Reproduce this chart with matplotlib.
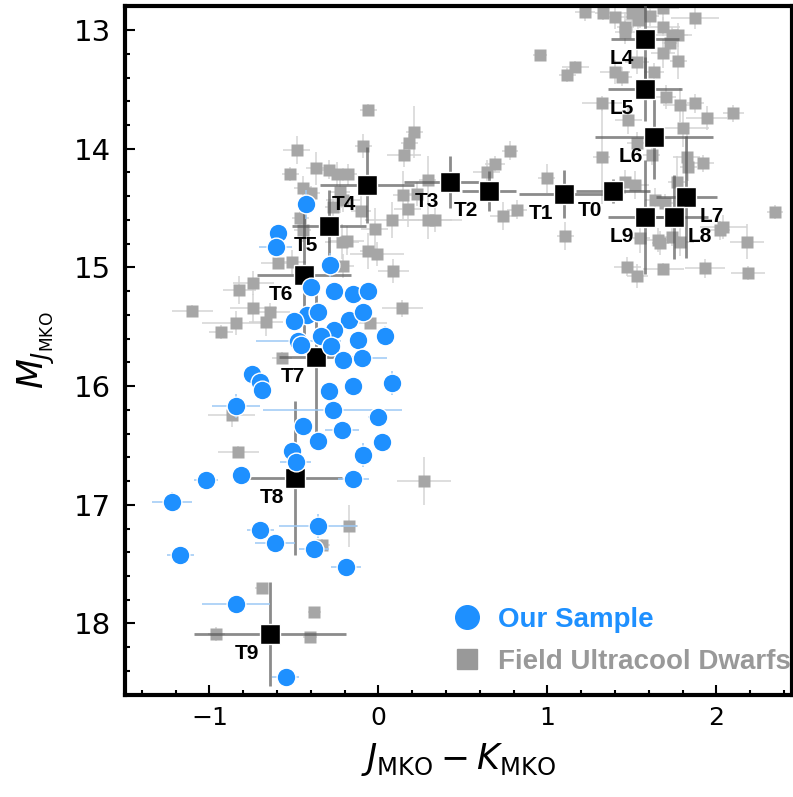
import matplotlib
matplotlib.use("Agg")
import matplotlib.pyplot as plt
from matplotlib.lines import Line2D
import numpy as np

# spectral-type averages (black squares)
spt_names = ["L4", "L5", "L6", "L7", "L8", "L9", "T0", "T1", "T2", "T3",
             "T4", "T5", "T6", "T7", "T8", "T9"]
spt_color = [1.578, 1.578, 1.631, 1.821, 1.750, 1.578, 1.389, 1.101, 0.655, 0.424,
             -0.067, -0.292, -0.440, -0.369, -0.493, -0.641]
spt_mag = [13.076, 13.497, 13.901, 14.407, 14.575, 14.575, 14.356, 14.382, 14.356, 14.280,
           14.306, 14.651, 15.064, 15.754, 16.773, 18.088]
spt_color_err = [0.20, 0.22, 0.35, 0.18, 0.20, 0.22, 0.22, 0.27, 0.16, 0.27,
                 0.28, 0.22, 0.28, 0.22, 0.28, 0.45]
spt_mag_err = [0.34, 0.27, 0.35, 0.51, 0.35, 0.48, 0.10, 0.20, 0.17, 0.22,
               0.32, 0.30, 0.55, 0.63, 0.65, 0.44]

# our sample (blue circles)
our_color = [-0.430, -0.594, -0.608, -0.289, -0.400, -0.261, -0.152, -0.059, -0.424, -0.359,
             -0.499, -0.172, -0.089, -0.261, -0.339, -0.473, -0.457, -0.280, -0.122, 0.040,
             -0.211, -0.098, -0.749, -0.700, -0.690, -0.290, -0.148, 0.083, -0.842, -0.270,
             -0.004, -0.444, -0.217, -0.359, 0.020, -0.509, -0.489, -0.089, -1.020, -0.811,
             -0.148, -1.222, -0.359, -0.700, -0.611, -0.380, -1.173, -0.191, -0.842, -0.547]
our_mag = [14.470, 14.713, 14.826, 14.980, 15.165, 15.199, 15.224, 15.203, 15.397, 15.374,
           15.449, 15.443, 15.378, 15.528, 15.578, 15.620, 15.656, 15.662, 15.612, 15.575,
           15.780, 15.766, 15.900, 15.962, 16.033, 16.041, 15.999, 15.977, 16.168, 16.201,
           16.258, 16.334, 16.370, 16.463, 16.468, 16.544, 16.637, 16.581, 16.791, 16.749,
           16.782, 16.976, 17.176, 17.213, 17.325, 17.376, 17.424, 17.527, 17.838, 18.453]
our_color_err = [0.05, 0.04, 0.10, 0.05, 0.04, 0.04, 0.04, 0.04, 0.04, 0.05,
                 0.05, 0.04, 0.05, 0.04, 0.05, 0.25, 0.05, 0.05, 0.05, 0.05,
                 0.05, 0.15, 0.05, 0.05, 0.04, 0.05, 0.05, 0.05, 0.14, 0.41,
                 0.06, 0.05, 0.10, 0.04, 0.05, 0.04, 0.09, 0.05, 0.07, 0.04,
                 0.09, 0.12, 0.23, 0.08, 0.12, 0.09, 0.08, 0.09, 0.20, 0.08]
our_mag_err = [0.12, 0.05, 0.04, 0.10, 0.04, 0.06, 0.04, 0.04, 0.05, 0.05,
               0.05, 0.05, 0.05, 0.05, 0.05, 0.04, 0.05, 0.05, 0.05, 0.08,
               0.05, 0.05, 0.08, 0.05, 0.04, 0.05, 0.05, 0.10, 0.10, 0.04,
               0.04, 0.04, 0.05, 0.04, 0.04, 0.04, 0.04, 0.10, 0.04, 0.04,
               0.04, 0.08, 0.10, 0.04, 0.04, 0.04, 0.04, 0.04, 0.04, 0.04]

# field ultracool dwarfs (gray squares)
field_color = [1.223, 1.331, 1.401, 1.499, 1.549, 1.608, 1.686, 1.874, 1.460, 1.460,
               1.538, 1.686, 1.736, 1.775, 1.726, 1.686, 1.775, 1.633, 1.529, 1.164,
               1.118, 1.401, 1.440, 1.322, 1.479, 1.702, 1.785, 1.874, 1.943, 2.101,
               1.805, 1.322, 1.529, 1.618, 1.825, 1.923, 1.834, 1.460, 1.519, 1.766,
               1.637, 1.696, 2.347, 1.105, 2.041, 2.022, 2.180, 1.549, 1.657, 1.736,
               1.785, 1.473, 1.533, 1.686, 1.933, 2.186, 1.667,
               0.957, 0.779, 0.690, 0.641, 0.996, 0.819, 0.740,
               -0.059, 0.213, 0.183, 0.154, -0.089, 0.292, 0.144, 0.231, 0.174, 0.083,
               0.292, 0.336, -0.020, -0.059, -0.006, 0.089, 0.142,
               -0.483, -0.522, -0.369, -0.290, -0.246, -0.178, -0.447, -0.398, -0.227, -0.211,
               -0.102, -0.463, -0.447, -0.217, -0.187, -0.207, -0.509, -0.592, -0.740, -0.822,
               -1.101, -0.740, -0.641, -0.664, -0.842, -0.931, -0.049, -0.266,
               -0.568, -0.868, -0.828, 0.272, -0.172, -0.335, -0.690, -0.379, -0.960, -0.404]
field_mag = [12.846, 12.854, 12.888, 12.859, 12.859, 12.882, 12.817, 12.901, 12.972, 13.014,
             12.916, 12.972, 13.042, 13.042, 13.112, 13.196, 13.261, 13.351, 13.267, 13.309,
             13.379, 13.351, 13.393, 13.618, 13.758, 13.562, 13.632, 13.618, 13.744, 13.702,
             13.828, 14.067, 13.955, 14.053, 14.067, 14.123, 14.152, 14.278, 14.306, 14.278,
             14.432, 14.460, 14.531, 14.735, 14.657, 14.685, 14.783, 14.755, 14.769, 14.741,
             14.783, 14.994, 15.072, 15.016, 15.008, 15.045, 14.797,
             13.210, 14.019, 14.129, 14.194, 14.249, 14.516, 14.567,
             13.674, 13.862, 13.955, 14.053, 13.977, 14.264, 14.390, 14.382, 14.511, 14.601,
             14.601, 14.601, 14.679, 14.862, 14.887, 15.028, 15.345,
             14.011, 14.216, 14.165, 14.179, 14.216, 14.216, 14.334, 14.371, 14.362, 14.432,
             14.522, 14.586, 14.685, 14.783, 14.775, 14.988, 14.952, 14.960, 15.134, 15.190,
             15.365, 15.345, 15.378, 15.457, 15.471, 15.542, 15.471, 14.488,
             15.766, 16.243, 16.558, 16.800, 17.179, 17.339, 17.698, 17.906, 18.089, 18.117]
field_color_err = [0.06, 0.05, 0.08, 0.10, 0.07, 0.05, 0.09, 0.14, 0.05, 0.06,
                   0.08, 0.10, 0.12, 0.06, 0.05, 0.07, 0.05, 0.06, 0.07, 0.08,
                   0.05, 0.09, 0.06, 0.12, 0.08, 0.06, 0.10, 0.05, 0.12, 0.06,
                   0.15, 0.05, 0.06, 0.05, 0.08, 0.06, 0.05, 0.07, 0.08, 0.05,
                   0.06, 0.05, 0.05, 0.05, 0.14, 0.06, 0.10, 0.06, 0.07, 0.05,
                   0.08, 0.08, 0.06, 0.12, 0.12, 0.10, 0.05,
                   0.04, 0.05, 0.06, 0.08, 0.05, 0.06, 0.08,
                   0.05, 0.05, 0.05, 0.10, 0.05, 0.05, 0.06, 0.05, 0.08, 0.16,
                   0.20, 0.10, 0.08, 0.05, 0.16, 0.09, 0.12,
                   0.08, 0.05, 0.06, 0.05, 0.07, 0.05, 0.05, 0.05, 0.06, 0.10,
                   0.06, 0.05, 0.05, 0.10, 0.10, 0.06, 0.08, 0.10, 0.12, 0.10,
                   0.12, 0.14, 0.12, 0.10, 0.20, 0.07, 0.10, 0.05,
                   0.06, 0.14, 0.12, 0.16, 0.05, 0.05, 0.04, 0.04, 0.05, 0.04]
field_mag_err = [0.08, 0.06, 0.10, 0.15, 0.12, 0.08, 0.10, 0.09, 0.12, 0.10,
                 0.14, 0.08, 0.07, 0.10, 0.08, 0.12, 0.15, 0.07, 0.10, 0.05,
                 0.06, 0.10, 0.08, 0.06, 0.12, 0.10, 0.14, 0.08, 0.10, 0.07,
                 0.16, 0.40, 0.10, 0.08, 0.20, 0.07, 0.12, 0.10, 0.12, 0.22,
                 0.10, 0.08, 0.06, 0.12, 0.10, 0.08, 0.15, 0.12, 0.10, 0.08,
                 0.12, 0.08, 0.10, 0.05, 0.08, 0.06, 0.10,
                 0.04, 0.08, 0.07, 0.10, 0.12, 0.08, 0.12,
                 0.05, 0.22, 0.08, 0.10, 0.10, 0.20, 0.20, 0.10, 0.15, 0.15,
                 0.16, 0.10, 0.18, 0.15, 0.10, 0.10, 0.07,
                 0.12, 0.06, 0.14, 0.08, 0.10, 0.09, 0.10, 0.06, 0.18, 0.10,
                 0.12, 0.08, 0.10, 0.15, 0.12, 0.10, 0.10, 0.05, 0.10, 0.12,
                 0.05, 0.12, 0.08, 0.12, 0.10, 0.06, 0.05, 0.08,
                 0.05, 0.10, 0.05, 0.20, 0.18, 0.05, 0.04, 0.04, 0.06, 0.04]

BLUE = "#1E90FF"
GRAY = "#A6A6A6"

fig = plt.figure(figsize=(7.93, 7.97), dpi=100)
ax = fig.add_axes([0.1574, 0.1284, 0.8419, 0.8637])

# field objects
ax.errorbar(field_color, field_mag, xerr=field_color_err, yerr=field_mag_err,
            fmt="none", ecolor="#d4d4d4", elinewidth=1.1, capsize=0, zorder=1)
ax.plot(field_color, field_mag, "s", color=GRAY, markersize=8.5, mec="none", zorder=2)

# spectral-type averages
ax.errorbar(spt_color, spt_mag, xerr=spt_color_err, yerr=spt_mag_err,
            fmt="none", ecolor="#5a5a5a", elinewidth=2.0, alpha=0.7, capsize=0, zorder=3)
ax.plot(spt_color, spt_mag, "s", color="black", markersize=15, mec="white", mew=1.0, zorder=4)

right_side = {"L7", "L8"}
for name, xx, yy in zip(spt_names, spt_color, spt_mag):
    if name in right_side:
        off, ha = (10, -14), "left"
    else:
        off, ha = (-8, -14), "right"
    ax.annotate(name, (xx, yy), xytext=off, textcoords="offset points",
                ha=ha, va="center", fontsize=15, fontweight="bold",
                family="Liberation Sans", color="black", zorder=5)

# our sample
ax.errorbar(our_color, our_mag, xerr=our_color_err, yerr=our_mag_err,
            fmt="none", ecolor="#9cc9f5", elinewidth=1.1, capsize=0, zorder=6)
ax.plot(our_color, our_mag, "o", color=BLUE, markersize=13.5, mec="white", mew=1.0, zorder=7)

ax.set_xlim(-1.5, 2.45)
ax.set_ylim(18.6, 12.8)
ax.set_xticks([-1, 0, 1, 2])
ax.set_yticks([13, 14, 15, 16, 17, 18])
ax.set_xticks(np.arange(-1.4, 2.45, 0.2), minor=True)
ax.set_yticks(np.arange(12.8, 18.61, 0.2), minor=True)
ax.tick_params(which="both", direction="in", top=False, right=False, width=1.5)
ax.tick_params(which="major", length=7)
ax.tick_params(axis="x", which="major", labelsize=18, pad=8)
ax.tick_params(axis="y", which="major", labelsize=21, pad=10)
ax.tick_params(which="minor", length=3.5)
for sp in ax.spines.values():
    sp.set_linewidth(3)

ax.set_xlabel(r"$J_{\rm MKO} - K_{\rm MKO}$", fontsize=25, labelpad=8)
ax.set_ylabel(r"$M_{J_{\rm MKO}}$", fontsize=25, labelpad=12)

handles = [Line2D([], [], marker="o", ls="none", color=BLUE, markersize=17),
           Line2D([], [], marker="s", ls="none", color="#999999", markersize=14)]
leg = ax.legend(handles, ["Our Sample", "Field Ultracool Dwarfs"], loc="lower right",
                bbox_to_anchor=(1.035, -0.008), frameon=False, handletextpad=0.5,
                labelspacing=0.6, handlelength=1.2,
                prop={"family": "Liberation Sans", "weight": "bold", "size": 20})
for txt, col in zip(leg.get_texts(), [BLUE, "#999999"]):
    txt.set_color(col)

fig.savefig("out.png", dpi=100)
